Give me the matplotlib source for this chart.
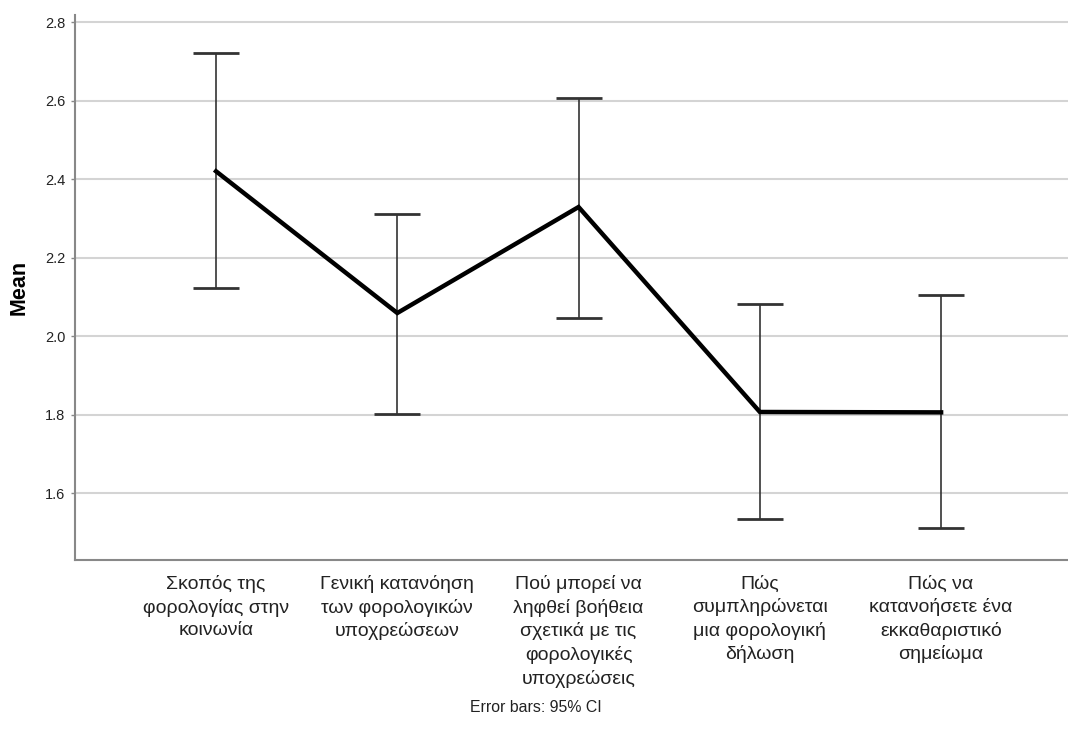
import matplotlib
matplotlib.use("Agg")
import matplotlib.pyplot as plt
import numpy as np

plt.rcParams['font.family'] = ['Liberation Sans', 'DejaVu Sans']

# category labels (already wrapped the way SPSS breaks them)
categories = [
    "Σκοπός της\nφορολογίας στην\nκοινωνία",
    "Γενική κατανόηση\nτων φορολογικών\nυποχρεώσεων",
    "Πού μπορεί να\nληφθεί βοήθεια\nσχετικά με τις\nφορολογικές\nυποχρεώσεις",
    "Πώς\nσυμπληρώνεται\nμια φορολογική\nδήλωση",
    "Πώς να\nκατανοήσετε ένα\nεκκαθαριστικό\nσημείωμα",
]
means = [2.420, 2.059, 2.329, 1.807, 1.806]
ci_low = [2.124, 1.803, 2.047, 1.534, 1.512]
ci_high = [2.720, 2.312, 2.606, 2.082, 2.105]

W, H = 1068, 729
fig = plt.figure(figsize=(W / 100, H / 100), dpi=100)
ax = fig.add_axes([75 / W, 1 - 560 / H, 1 - 75 / W, (560 - 15) / H])

x = np.arange(len(categories))
means = np.array(means)
lo = means - np.array(ci_low)
hi = np.array(ci_high) - means

ax.errorbar(x, means, yerr=[lo, hi], fmt='none', ecolor='#333333',
            elinewidth=1.2, capsize=16.3, capthick=2.0, zorder=3)
ax.plot(x, means, color='black', linewidth=3.2, solid_joinstyle='miter', zorder=4)

ax.set_xlim(-0.778, 4.70)
ax.set_ylim(1.430, 2.818)
ax.set_yticks(np.arange(1.6, 2.81, 0.2))
ax.set_yticklabels([f"{v:.1f}" for v in np.arange(1.6, 2.81, 0.2)], fontsize=10.5, color='#222222')
ax.yaxis.grid(True, color='#d4d4d4', linewidth=1.5)
ax.set_axisbelow(True)
ax.tick_params(axis='y', length=3, width=1, color='#888888', pad=4)

ax.set_xticks(x)
ax.set_xticklabels(categories, fontsize=14, color='#222222', linespacing=1.4, va='top')
ax.tick_params(axis='x', length=0, pad=11)

for side in ['top', 'right']:
    ax.spines[side].set_visible(False)
for side in ['left', 'bottom']:
    ax.spines[side].set_color('#888888')
    ax.spines[side].set_linewidth(1.5)

fig.text(19 / W, 1 - 287 / H, "Mean", fontsize=15.5, fontweight='bold',
         rotation=90, ha='center', va='center')

fig.text(536 / W, 1 - 708 / H, "Error bars: 95% CI", fontsize=11.4,
         ha='center', va='center', color='#222222')

fig.savefig("out.png", dpi=100)
